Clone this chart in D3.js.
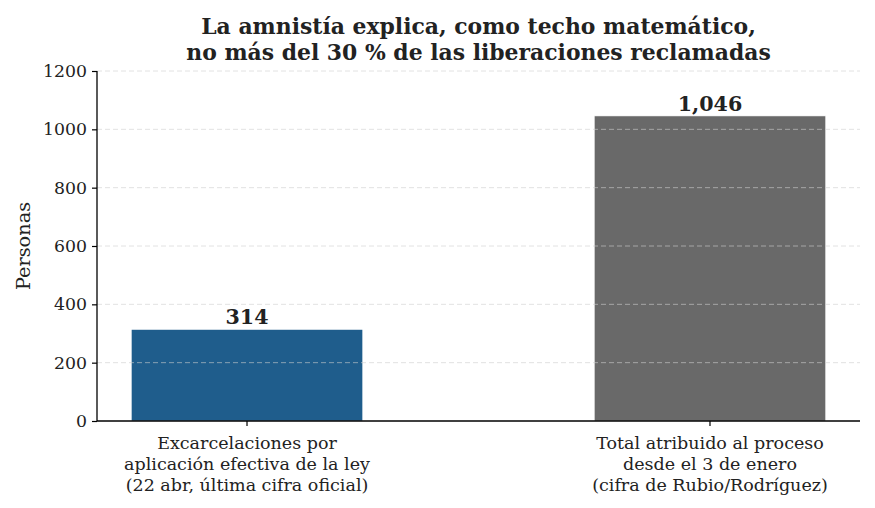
<!DOCTYPE html>
<html><head><meta charset="utf-8">
<script src="https://cdn.jsdelivr.net/npm/d3@7"></script>
<style>body{margin:0;background:#fff}svg{display:block}text{font-family:"DejaVu Serif",serif;fill:#222}</style>
</head><body><svg id="c" width="875" height="508"></svg>
<script>
const categories = ["Excarcelaciones por\naplicación efectiva de la ley\n(22 abr, última cifra oficial)",
                    "Total atribuido al proceso\ndesde el 3 de enero\n(cifra de Rubio/Rodríguez)"];
const values = [314, 1046];
const valueLabels = ["314", "1,046"];
const colors = ["#1f5d8c", "#696969"];
const yTicks = [0, 200, 400, 600, 800, 1000, 1200];
const titleLines = ["La amnistía explica, como techo matemático,", "no más del 30 % de las liberaciones reclamadas"];

const svg = d3.select("#c");
const L = 97, R = 860, T = 71, B = 421;
const x = d3.scaleBand().domain(categories).range([L, R]).paddingInner(0.5).paddingOuter(0.074);
const y = d3.scaleLinear().domain([0, 1200]).range([B, T]);

// bars
svg.selectAll("rect.bar").data(values).enter().append("rect")
  .attr("x", (d, i) => x(categories[i])).attr("width", x.bandwidth())
  .attr("y", d => y(d)).attr("height", d => B - y(d))
  .attr("fill", (d, i) => colors[i]).attr("stroke", "#fff").attr("stroke-width", 0.6);

// grid
svg.append("g").selectAll("line").data(yTicks.filter(t => t > 0)).enter().append("line")
  .attr("x1", L).attr("x2", R).attr("y1", d => y(d)).attr("y2", d => y(d))
  .attr("stroke", "#cfcfcf").attr("stroke-opacity", 0.6).attr("stroke-width", 1)
  .attr("stroke-dasharray", "5,3");

// axes
const ya = svg.append("g").attr("transform", `translate(${L},0)`)
  .call(d3.axisLeft(y).tickValues(yTicks).tickFormat(d3.format("d")).tickSize(5).tickPadding(5));
const xa = svg.append("g").attr("transform", `translate(0,${B})`)
  .call(d3.axisBottom(x).tickSize(5).tickFormat(""));
[ya, xa].forEach(g => {
  g.select(".domain").attr("stroke", "#000").attr("stroke-width", 1.3);
  g.selectAll(".tick line").attr("stroke", "#000").attr("stroke-width", 1.2);
  g.selectAll("text").style("font-family", "DejaVu Serif").style("font-size", "17.3px").attr("fill", "#111");
});
ya.select(".domain").attr("d", `M0,${T}V${B}`);
xa.select(".domain").attr("d", `M${L},0H${R}`);

// x tick labels (multi-line)
categories.forEach(c => {
  const t = svg.append("text").attr("text-anchor", "middle").style("font-size", "17.5px").attr("fill", "#111");
  c.split("\n").forEach((ln, j) => {
    t.append("tspan").attr("x", x(c) + x.bandwidth() / 2).attr("y", 449 + j * 21).text(ln);
  });
});

// value labels
svg.selectAll("text.val").data(values).enter().append("text")
  .attr("x", (d, i) => x(categories[i]) + x.bandwidth() / 2).attr("y", d => y(d) - 5)
  .attr("text-anchor", "middle").style("font-size", "20.6px").style("font-weight", "bold")
  .text((d, i) => valueLabels[i]);

// y label
svg.append("text").attr("transform", `translate(30,${(T + B) / 2}) rotate(-90)`)
  .attr("text-anchor", "middle").style("font-size", "19.3px").attr("fill", "#111").text("Personas");

// title
titleLines.forEach((ln, j) => {
  svg.append("text").attr("x", (L + R) / 2).attr("y", 34 + j * 26).attr("text-anchor", "middle")
    .style("font-size", "21.9px").style("font-weight", "bold").text(ln);
});
</script></body></html>
